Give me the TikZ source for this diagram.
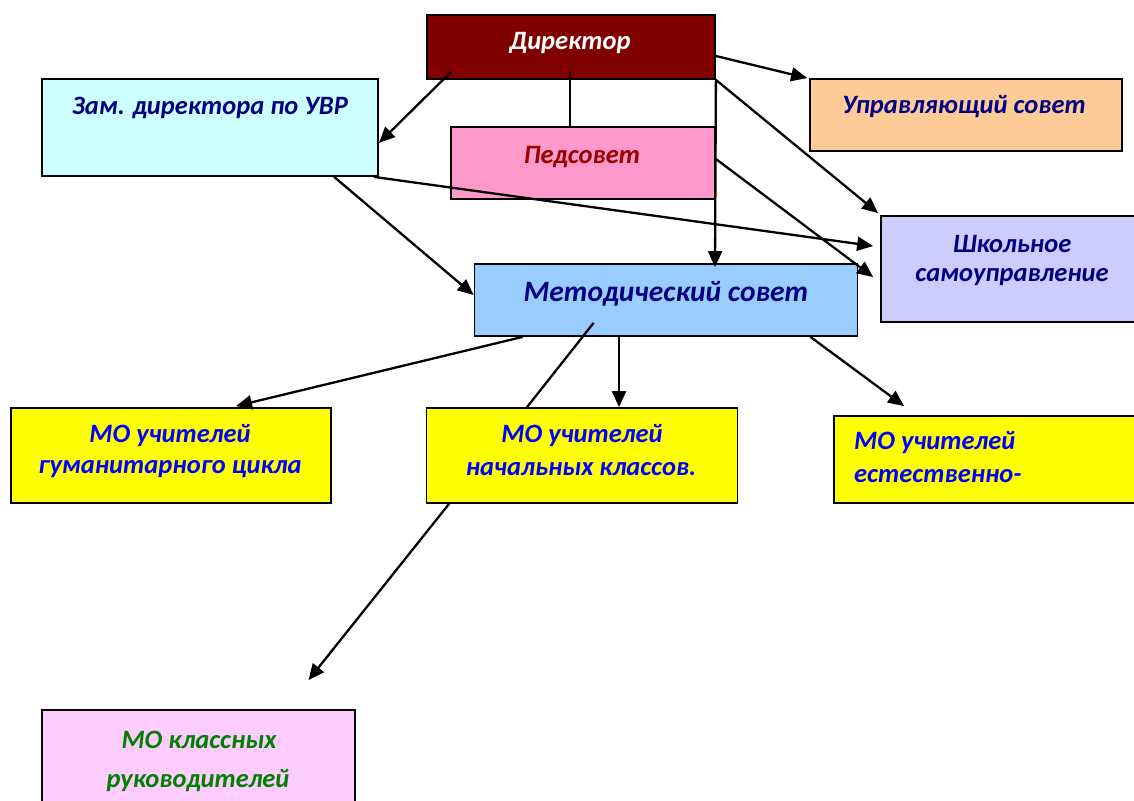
\documentclass[tikz,border=0pt]{standalone}
\usepackage{fontspec}
\setmainfont{Carlito}
\usetikzlibrary{arrows.meta}
\definecolor{dirred}{HTML}{800000}
\definecolor{zamfill}{HTML}{CCFFFF}
\definecolor{pedfill}{HTML}{FF99CC}
\definecolor{pedtext}{HTML}{990000}
\definecolor{uprfill}{HTML}{FFCC99}
\definecolor{shkfill}{HTML}{CCCCFF}
\definecolor{metfill}{HTML}{99CCFF}
\definecolor{mofill}{HTML}{FFFF00}
\definecolor{mokfill}{HTML}{FFCCFF}
\definecolor{navytext}{HTML}{000080}
\definecolor{bluetext}{HTML}{0000FF}
\definecolor{greentext}{HTML}{008000}
\begin{document}
\begin{tikzpicture}[x=1pt,y=-1pt,
  box/.style={draw=black, line width=1.8pt, inner sep=0pt},
  txt/.style={inner sep=0pt, font=\fontsize{26.5}{30}\selectfont\bfseries\itshape},
  bigtxt/.style={inner sep=0pt, font=\fontsize{29.5}{34}\selectfont\bfseries\itshape},
  conn/.style={draw=black, line width=2.3pt},
  arr/.style={conn, -{Triangle[length=16pt,width=14pt]}}]
\useasboundingbox (0,0) rectangle (1134,800);
\clip (0,0) rectangle (1134,800);
% boxes
\node[box, fill=dirred, minimum width=288pt, minimum height=64pt] (dir) at (571,47) {};
\node[box, fill=zamfill, minimum width=336pt, minimum height=97pt] (zam) at (210,127.5) {};
\node[box, fill=pedfill, minimum width=264pt, minimum height=72pt] (ped) at (583,163) {};
\node[box, fill=uprfill, minimum width=312pt, minimum height=72pt] (upr) at (966,115) {};
\node[box, fill=shkfill, minimum width=264pt, minimum height=106pt] (shk) at (1013,269) {};
\node[box, fill=metfill, minimum width=383pt, minimum height=72pt] (met) at (666,300) {};
\node[box, fill=mofill, minimum width=320pt, minimum height=95pt] (mog) at (171,455.5) {};
\node[box, fill=mofill, minimum width=311pt, minimum height=95pt] (mon) at (582,455.5) {};
\node[box, fill=mofill, minimum width=312pt, minimum height=87pt] (moe) at (990,459.5) {};
\node[box, fill=mokfill, minimum width=313pt, minimum height=110pt] (mok) at (198.5,765) {};
% texts
\node[txt, text=white] (tdir) at (570,43) {Директор};
\node[txt, text=navytext] (tzam) at (210,108) {Зам. директора по УВР};
\node[txt, text=pedtext] (tped) at (582,157) {Педсовет};
\node[txt, text=navytext] (tupr) at (964,107) {Управляющий совет};
\node[txt, text=navytext] (tshk1) at (1012,244) {Школьное};
\node[txt, text=navytext] (tshk2) at (1012,277) {самоуправление};
\node[bigtxt, text=navytext] (tmet) at (666,294) {Методический совет};
\node[txt, text=bluetext] (tmog1) at (170,436) {МО учителей};
\node[txt, text=bluetext] (tmog2) at (170,469) {гуманитарного цикла};
\node[txt, text=bluetext] (tmon1) at (582,436) {МО учителей};
\node[txt, text=bluetext] (tmon2) at (581,469) {начальных классов.};
\node[txt, text=bluetext, anchor=west] (tmoe1) at (854,443) {МО учителей};
\node[txt, text=bluetext, anchor=west] (tmoe2) at (854,476) {естественно-};
\node[txt, text=greentext] (tmok1) at (199,740) {МО классных};
\node[txt, text=greentext] (tmok2) at (198,781) {руководителей};
% connectors
\draw[arr] ([xshift=25pt,yshift=8pt]dir.south west) -- ([yshift=-15.5pt]zam.east);
\draw[conn] ([xshift=-1pt,yshift=8pt]dir.south) -- ([xshift=-13pt]ped.north);
\draw[arr] ([yshift=-9pt]dir.east) -- ([xshift=-2pt]upr.north west);
\draw[arr] (dir.south east) -- ([xshift=-2pt,yshift=2pt]shk.north west);
\draw[arr] (dir.south east) -- ([xshift=49pt,yshift=-4pt]met.north);
\draw[arr] ([xshift=-5pt]zam.south east) -- ([xshift=-7pt,yshift=23pt]shk.west);
\draw[arr] ([yshift=4pt]ped.east) -- ([xshift=-7pt,yshift=-8pt]shk.west);
\draw[arr] ([xshift=293pt]zam.south west) -- ([yshift=5pt]met.west);
\draw[arr] ([xshift=49pt]met.south west) -- ([xshift=65pt,yshift=1pt]mog.north);
\draw[conn] ([xshift=120pt,yshift=14pt]met.south west) -- ([xshift=-55pt]mon.north);
\draw[arr] ([xshift=-133pt]mon.south) -- ([xshift=110pt,yshift=29pt]mok.north);
\draw[arr] ([xshift=-47pt]met.south) -- ([xshift=37pt]mon.north);
\draw[arr] ([xshift=-48pt]met.south east) -- ([xshift=71pt,yshift=9pt]moe.north west);
\end{tikzpicture}
\end{document}
